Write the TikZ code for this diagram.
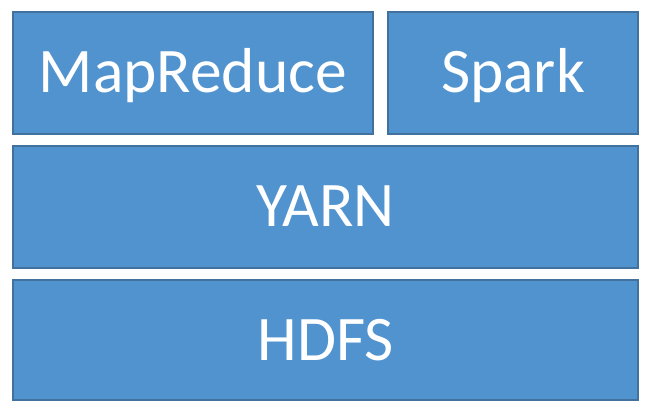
\documentclass[tikz,border=0pt]{standalone}
\usepackage{fontspec}
\setmainfont{Carlito}
\definecolor{boxfill}{HTML}{5093CF}
\definecolor{boxline}{HTML}{41719C}
\begin{document}
\begin{tikzpicture}[x=1pt,y=1pt,
  layer/.style={draw=boxline, line width=1.2pt, fill=boxfill},
  label/.style={text=white, anchor=base, inner sep=0pt, font=\fontsize{63.5}{63.5}\selectfont}]
\useasboundingbox (0,0) rectangle (656,420);
\path[layer] (13,286) rectangle (373,408);
\path[layer] (388,286) rectangle (638,408);
\path[layer] (13,152) rectangle (638,274);
\path[layer] (13,20) rectangle (638,140);
\node[label] (mr) at (193,327) {MapReduce};
\node[label] (sp) at (513,327) {Spark};
\node[label] (yarn) at (325.5,193) {YARN};
\node[label] (hdfs) at (325.5,59) {HDFS};
\end{tikzpicture}
\end{document}
